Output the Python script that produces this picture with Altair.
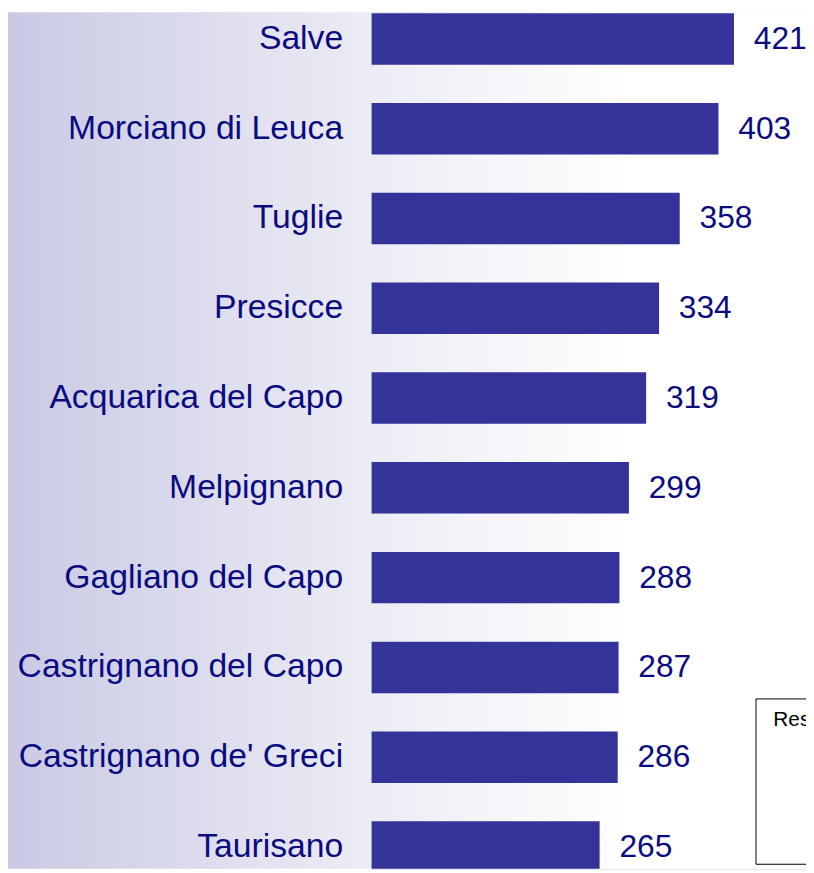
import altair as alt
import pandas as pd

comuni = ["Salve", "Morciano di Leuca", "Tuglie", "Presicce", "Acquarica del Capo",
          "Melpignano", "Gagliano del Capo", "Castrignano del Capo",
          "Castrignano de' Greci", "Taurisano"]
valori = [421, 403, 358, 334, 319, 299, 288, 287, 286, 265]
legend_title = ["Res"]

df = pd.DataFrame({"comune": comuni, "valore": valori})

W, H = 439, 865
NAVY = "#0b0b80"
BAR = "#333399"

background = alt.Chart(pd.DataFrame({"k": [0]})).mark_rect(
    color=alt.Gradient(
        gradient="linear",
        stops=[alt.GradientStop(color="#c9c9e4", offset=0),
               alt.GradientStop(color="#ebebf5", offset=0.44),
               alt.GradientStop(color="#ffffff", offset=0.78),
               alt.GradientStop(color="#ffffff", offset=1)],
        x1=0, x2=1, y1=0, y2=0),
).encode(x=alt.value(-367), x2=alt.value(W), y=alt.value(0), y2=alt.value(H))

yenc = alt.Y("comune:N", sort=comuni, title=None,
             scale=alt.Scale(range=[1, 869], paddingInner=0.4265, paddingOuter=0),
             axis=alt.Axis(labelFontSize=34, labelColor=NAVY, labelFont="Liberation Sans",
                           labelPadding=29, ticks=False, tickSize=0, domain=False,
                           grid=False, labelLimit=400, zindex=2))
xenc = alt.X("valore:Q", title=None, scale=alt.Scale(domain=[0, 504.6], nice=False, zero=True),
             axis=None)

bars = alt.Chart(df).mark_bar(color=BAR, clip=True).encode(x=xenc, y=yenc)

labels = alt.Chart(df).mark_text(align="left", baseline="middle", dx=20, fontSize=32,
                                 font="Liberation Sans", color=NAVY).encode(
    x=xenc, y=yenc, text="valore:Q")

box = alt.Chart(pd.DataFrame({"k": [0]})).mark_rect(
    fill="white", stroke="black", strokeWidth=1).encode(
    x=alt.value(388.5), x2=alt.value(470), y=alt.value(693.5), y2=alt.value(860.5))

box_text = alt.Chart(pd.DataFrame({"t": legend_title})).mark_text(
    align="left", baseline="alphabetic", fontSize=21, font="Liberation Sans",
    color="black").encode(x=alt.value(406), y=alt.value(721), text="t:N")

chart = alt.layer(background, bars, labels, box, box_text).properties(
    width=W, height=H,
    autosize=alt.AutoSizeParams(type="none"),
    padding={"left": 367, "top": 0, "right": 0, "bottom": 0},
).configure_view(stroke=None).configure(background="white")

chart.save("out.html", embed_options={"renderer": "svg", "actions": False})
